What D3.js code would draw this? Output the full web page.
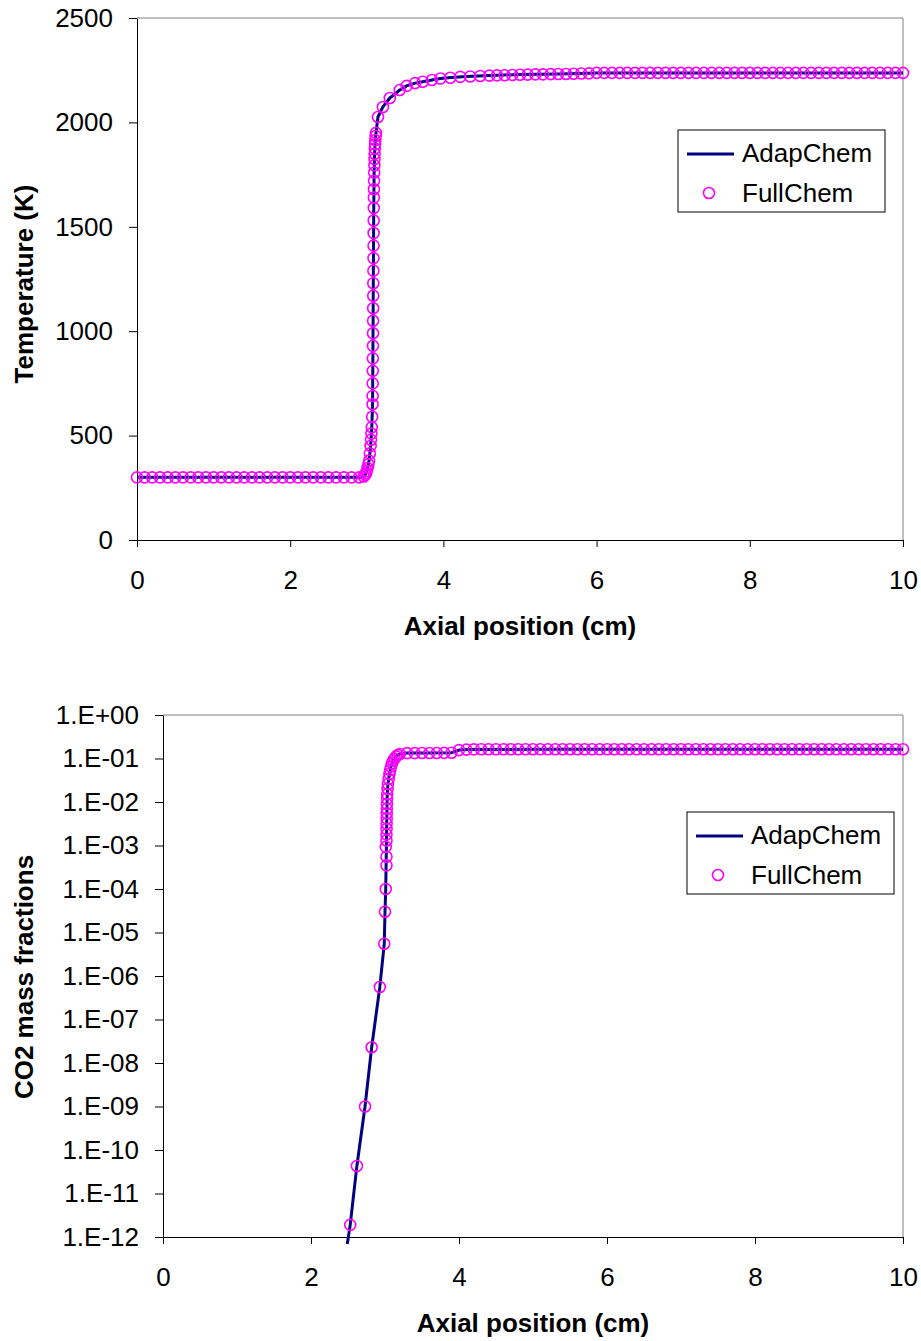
<!DOCTYPE html>
<html>
<head>
<meta charset="utf-8">
<script src="https://cdnjs.cloudflare.com/ajax/libs/d3/7.8.5/d3.min.js"></script>
<style>
  body { margin: 0; background: #fff; }
  text { font-family: "Liberation Sans", Arial, sans-serif; }
</style>
</head>
<body>
<div id="chart-area"></div>
<script>
// ---- data ----
const xTicks = [0, 2, 4, 6, 8, 10];
const tempTicks = [0, 500, 1000, 1500, 2000, 2500];
const co2Ticks = [1e0, 1e-1, 1e-2, 1e-3, 1e-4, 1e-5, 1e-6, 1e-7, 1e-8, 1e-9, 1e-10, 1e-11, 1e-12];

// temperature, AdapChem (line)
const adapTempX = [0, 2.92, 2.97, 3.00, 3.03, 3.05, 3.065, 3.075, 3.08, 3.085, 3.09, 3.095, 3.105, 3.12,
  3.146, 3.21, 3.30, 3.43, 3.52, 3.63, 3.73, 3.85, 3.96, 4.1, 4.3, 4.6, 5.0, 5.5, 6.0, 7.0, 8.0, 9.0, 10];
const adapTempT = [300, 300, 306, 330, 380, 450, 540, 650, 900, 1250, 1550, 1750, 1880, 1950,
  2026, 2074, 2117, 2155, 2175, 2188, 2195, 2203, 2210, 2215, 2220, 2225, 2229, 2232, 2236, 2237, 2237, 2237, 2237];

// temperature, FullChem (markers)
const fullTempX = [
  0, 0.1, 0.2, 0.3, 0.4, 0.5, 0.6, 0.7, 0.8, 0.9, 1.0, 1.1, 1.2, 1.3, 1.4,
  1.5, 1.6, 1.7, 1.8, 1.9, 2.0, 2.1, 2.2, 2.3, 2.4, 2.5, 2.6, 2.7, 2.8, 2.9,
  2.96, 2.98, 2.99, 3.00, 3.01, 3.02, 3.03, 3.04, 3.05, 3.055, 3.06, 3.065, 3.07, 3.075,
  3.076, 3.077, 3.078, 3.079, 3.08, 3.081, 3.082, 3.083, 3.084, 3.085, 3.086, 3.087, 3.088, 3.089, 3.09, 3.091, 3.092,
  3.093, 3.095, 3.097, 3.099, 3.101, 3.103, 3.105, 3.108, 3.111, 3.115, 3.12,
  3.146, 3.21, 3.3, 3.43, 3.52, 3.63, 3.73, 3.85, 3.96, 4.09, 4.22, 4.35, 4.48,
  4.6, 4.7, 4.8, 4.9, 5.0, 5.1, 5.2, 5.3, 5.4, 5.5, 5.6, 5.7, 5.8, 5.9,
  6.0, 6.1, 6.2, 6.3, 6.4, 6.5, 6.6, 6.7, 6.8, 6.9,
  7.0, 7.1, 7.2, 7.3, 7.4, 7.5, 7.6, 7.7, 7.8, 7.9,
  8.0, 8.1, 8.2, 8.3, 8.4, 8.5, 8.6, 8.7, 8.8, 8.9,
  9.0, 9.1, 9.2, 9.3, 9.4, 9.5, 9.6, 9.7, 9.8, 9.9,
  10.0
];
const fullTempT = [
  300, 300, 300, 300, 300, 300, 300, 300, 300, 300, 300, 300, 300, 300, 300,
  300, 300, 300, 300, 300, 300, 300, 300, 300, 300, 300, 300, 300, 300, 300,
  304, 312, 320, 330, 345, 362, 380, 415, 450, 480, 510, 540, 590, 650,
  690, 750, 810, 870, 930, 990, 1050, 1110, 1170, 1230, 1290, 1350, 1410, 1470, 1530, 1590, 1640,
  1680, 1720, 1760, 1795, 1825, 1850, 1875, 1895, 1915, 1935, 1950,
  2026, 2074, 2117, 2155, 2175, 2188, 2195, 2203, 2210, 2214, 2218, 2220, 2222,
  2224, 2225, 2226, 2227, 2228, 2229, 2230, 2230, 2231, 2232, 2232, 2233, 2234, 2235,
  2237, 2237, 2237, 2237, 2237, 2237, 2237, 2237, 2237, 2237,
  2237, 2237, 2237, 2237, 2237, 2237, 2237, 2237, 2237, 2237,
  2237, 2237, 2237, 2237, 2237, 2237, 2237, 2237, 2237, 2237,
  2237, 2237, 2237, 2237, 2237, 2237, 2237, 2237, 2237, 2237,
  2237
];

// CO2 mass fraction, AdapChem (line)
const adapCo2X = [2.49, 2.53, 2.62, 2.73, 2.82, 2.93, 2.99, 3.00, 3.01, 3.02, 3.025, 3.03, 3.04, 3.06,
  3.08, 3.11, 3.15, 3.2, 3.27, 3.5, 3.9, 4.0, 4.1, 5.0, 6.0, 8.0, 10];
const adapCo2Y = [6.9e-13, 1.9e-12, 4.3e-11, 1.0e-9, 2.3e-8, 5.6e-7, 5.5e-6, 3.0e-5, 1.0e-4, 1.3e-3, 5e-3, 1.5e-2, 2.6e-2, 4.4e-2,
  6.5e-2, 9e-2, 0.112, 0.127, 0.133, 0.134, 0.136, 0.156, 0.160, 0.163, 0.163, 0.163, 0.163];

// CO2 mass fraction, FullChem (markers)
const fullCo2X = [
  2.53, 2.62, 2.73, 2.82, 2.93, 2.99, 3.00, 3.01, 3.02, 3.02, 3.01, 3.02,
  3.02, 3.021, 3.022, 3.023, 3.024, 3.025, 3.026, 3.028, 3.03, 3.035, 3.04, 3.05, 3.06, 3.07,
  3.08, 3.095, 3.11, 3.13, 3.15, 3.175, 3.2,
  3.3, 3.4, 3.5, 3.6, 3.7, 3.8, 3.9,
  4.0, 4.1, 4.2, 4.3, 4.4, 4.5, 4.6, 4.7, 4.8, 4.9,
  5.0, 5.1, 5.2, 5.3, 5.4, 5.5, 5.6, 5.7, 5.8, 5.9,
  6.0, 6.1, 6.2, 6.3, 6.4, 6.5, 6.6, 6.7, 6.8, 6.9,
  7.0, 7.1, 7.2, 7.3, 7.4, 7.5, 7.6, 7.7, 7.8, 7.9,
  8.0, 8.1, 8.2, 8.3, 8.4, 8.5, 8.6, 8.7, 8.8, 8.9,
  9.0, 9.1, 9.2, 9.3, 9.4, 9.5, 9.6, 9.7, 9.8, 9.9,
  10.0
];
const fullCo2Y = [
  1.9e-12, 4.3e-11, 1.0e-9, 2.3e-8, 5.6e-7, 5.5e-6, 3.0e-5, 1.0e-4, 3.5e-4, 5.5e-4, 9.3e-4, 1.3e-3,
  1.8e-3, 2.4e-3, 3.2e-3, 4.2e-3, 5.5e-3, 7e-3, 9e-3, 1.2e-2, 1.5e-2, 2.0e-2, 2.6e-2, 3.4e-2, 4.4e-2, 5.4e-2,
  6.5e-2, 7.8e-2, 9e-2, 0.10, 0.112, 0.12, 0.127,
  0.133, 0.133, 0.134, 0.134, 0.134, 0.135, 0.136,
  0.156, 0.160, 0.162, 0.163, 0.163, 0.163, 0.163, 0.163, 0.163, 0.163,
  0.163, 0.163, 0.163, 0.163, 0.163, 0.163, 0.163, 0.163, 0.163, 0.163,
  0.163, 0.163, 0.163, 0.163, 0.163, 0.163, 0.163, 0.163, 0.163, 0.163,
  0.163, 0.163, 0.163, 0.163, 0.163, 0.163, 0.163, 0.163, 0.163, 0.163,
  0.163, 0.163, 0.163, 0.163, 0.163, 0.163, 0.163, 0.163, 0.163, 0.163,
  0.163, 0.163, 0.163, 0.163, 0.163, 0.163, 0.163, 0.163, 0.163, 0.163,
  0.163
];

const seriesNames = ["AdapChem", "FullChem"];

// ---- drawing ----
const svg = d3.select("#chart-area")
  .append("svg")
  .attr("width", 921)
  .attr("height", 1341);

function expLabel(d) {
  const e = Math.round(Math.log10(d));
  return "1.E" + (e < 0 ? "-" : "+") + String(Math.abs(e)).padStart(2, "0");
}

function drawPanel(p) {
  const x = d3.scaleLinear().domain([0, 10]).range([p.left, p.right]);
  const y = p.y.range([p.bottom, p.top]);
  const g = svg.append("g");

  // gray plot-area border (top and right)
  g.append("path")
    .attr("d", `M${p.left},${p.top}H${p.right}V${p.bottom}`)
    .attr("fill", "none")
    .attr("stroke", "#808080")
    .attr("stroke-width", 1);

  const yAxis = g.append("g")
    .attr("transform", `translate(${p.left},0)`)
    .call(d3.axisLeft(y).tickValues(p.yTicks).tickFormat(p.yFormat)
      .tickSize(8).tickSizeOuter(0).tickPadding(16));

  const xAxis = g.append("g")
    .attr("transform", `translate(0,${p.bottom})`)
    .call(d3.axisBottom(x).tickValues(xTicks).tickFormat(d3.format("d"))
      .tickSize(7).tickSizeOuter(0).tickPadding(24));

  [yAxis, xAxis].forEach(a => {
    a.attr("font-size", 26).attr("font-family", '"Liberation Sans", Arial, sans-serif');
    a.selectAll("text").attr("fill", "#000");
    a.selectAll("path, line").attr("stroke", "#000").attr("stroke-width", 1);
  });

  // AdapChem line
  const line = d3.line().x(d => x(d[0])).y(d => y(d[1]));
  g.append("path")
    .datum(d3.zip(p.lineX, p.lineY))
    .attr("d", line)
    .attr("fill", "none")
    .attr("stroke", "#000080")
    .attr("stroke-width", 3)
    .attr("stroke-linejoin", "round");

  // FullChem markers
  g.selectAll("circle.mark")
    .data(d3.zip(p.markX, p.markY))
    .enter()
    .append("circle")
    .attr("class", "mark")
    .attr("cx", d => x(d[0]))
    .attr("cy", d => y(d[1]))
    .attr("r", 5.5)
    .attr("fill", "none")
    .attr("stroke", "#FF00FF")
    .attr("stroke-width", 1.6);

  // axis titles
  g.append("text")
    .attr("x", (p.left + p.right) / 2)
    .attr("y", p.bottom + 95)
    .attr("text-anchor", "middle")
    .attr("font-size", 26)
    .attr("font-weight", "bold")
    .text("Axial position (cm)");

  g.append("text")
    .attr("transform", `translate(33,${p.titleY}) rotate(-90)`)
    .attr("text-anchor", "middle")
    .attr("font-size", 26)
    .attr("font-weight", "bold")
    .text(p.yTitle);

  // legend
  const lg = g.append("g").attr("transform", `translate(${p.legX},${p.legY})`);
  lg.append("rect")
    .attr("width", 207).attr("height", 82)
    .attr("fill", "#fff").attr("stroke", "#000").attr("stroke-width", 1);
  lg.append("line")
    .attr("x1", 9).attr("x2", 56).attr("y1", 24).attr("y2", 24)
    .attr("stroke", "#000080").attr("stroke-width", 3);
  lg.append("circle")
    .attr("cx", 31).attr("cy", 63).attr("r", 5.5)
    .attr("fill", "none").attr("stroke", "#FF00FF").attr("stroke-width", 1.6);
  lg.selectAll("text")
    .data(seriesNames)
    .enter()
    .append("text")
    .attr("x", 64)
    .attr("y", (_, i) => 32 + i * 40)
    .attr("font-size", 26)
    .text(d => d);
}

drawPanel({
  left: 137, right: 903, top: 18, bottom: 540,
  y: d3.scaleLinear().domain([0, 2500]),
  yTicks: tempTicks, yFormat: d3.format("d"),
  lineX: adapTempX, lineY: adapTempT,
  markX: fullTempX, markY: fullTempT,
  yTitle: "Temperature (K)", titleY: 284,
  legX: 678, legY: 130
});

drawPanel({
  left: 163, right: 903, top: 715, bottom: 1237,
  y: d3.scaleLog().domain([1e-12, 1]),
  yTicks: co2Ticks, yFormat: expLabel,
  lineX: adapCo2X, lineY: adapCo2Y,
  markX: fullCo2X, markY: fullCo2Y,
  yTitle: "CO2 mass fractions", titleY: 977,
  legX: 687, legY: 812
});
</script>
</body>
</html>
